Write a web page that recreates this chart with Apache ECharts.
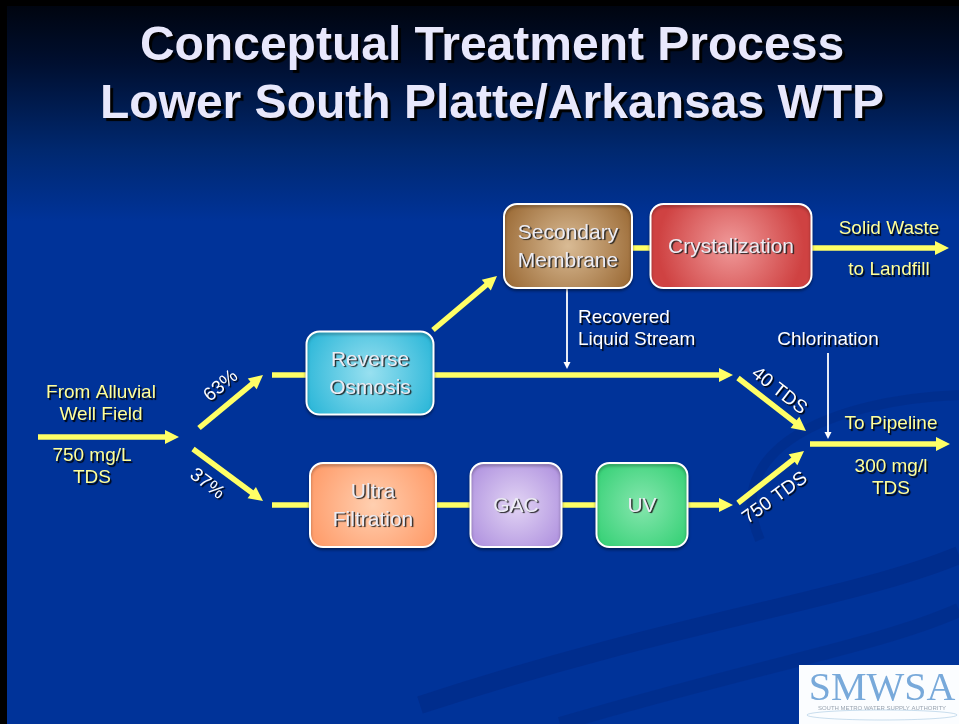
<!DOCTYPE html>
<html lang="en">
<head>
    <meta charset="UTF-8">
    <title>Conceptual Treatment Process</title>
    <script src="https://cdn.jsdelivr.net/npm/echarts@6/dist/echarts.min.js"></script>
    <style>
        html, body { margin: 0; padding: 0; background: #000; }
    </style>
</head>
<body>
    <div id="main" style="width: 959px;height:724px;"></div>
    <script type="text/javascript">
        // 处理单元：名称、中心点、宽高（图上坐标，单位约等于像素）
        var stepNames = ['Reverse\nOsmosis', 'Secondary\nMembrane', 'Crystalization', 'Ultra\nFiltration', 'GAC', 'UV'];
        var stepCenter = [[370, 373], [568, 246], [731, 246], [373, 505], [516, 505], [642, 505]];
        var stepSize = [[127, 83], [128, 84], [161, 84], [126, 84], [91, 84], [91, 84]];

        // 黄色流向箭头（起点 -> 箭头尖）
        var flowArrows = [
            [[38, 437], [179, 437]],
            [[199, 428], [263, 375]],
            [[193, 449], [263, 501]],
            [[433, 330], [497, 276]],
            [[433, 375], [733, 375]],
            [[812, 248], [949, 248]],
            [[688, 505], [733, 505]],
            [[738, 378], [806, 431]],
            [[738, 503], [804, 451]],
            [[810, 444], [950, 444]]
        ];
        // 单元之间的连接线（无箭头）
        var links = [
            [[272, 375], [307, 375]],
            [[632, 248], [651, 248]],
            [[272, 505], [310, 505]],
            [[436, 505], [471, 505]],
            [[562, 505], [597, 505]]
        ];
        // 白色细箭头：回收液、加氯
        var whiteArrows = [
            [[567, 288], [567, 369]],
            [[828, 353], [828, 439]]
        ];

        // 说明文字
        var noteText = ['From Alluvial\nWell Field', '750 mg/L\nTDS', '63%', '37%', 'Recovered\nLiquid Stream',
            'Chlorination', 'Solid Waste', 'to Landfill', '40 TDS', '750 TDS', 'To Pipeline', '300 mg/l\nTDS'];
        var notePos = [[101, 404], [92, 467], [221, 386], [207, 484], [578, 329],
            [828, 340], [889, 229], [889, 270], [779, 391], [775, 498], [891, 424], [891, 478]];
        var noteAngle = [0, 0, 40, -37, 0, 0, 0, 0, -38, 36, 0, 0];
        var noteKind = ['io', 'io', 'split', 'split', 'side', 'side', 'io', 'io', 'split', 'split', 'io', 'io'];

        var stepColors = [
            ['#98e0f0', '#29b6d8'],
            ['#d9bb95', '#9a6934'],
            ['#f09a9a', '#cf4242'],
            ['#ffcfb0', '#ff9966'],
            ['#e2d4f4', '#a17fd9'],
            ['#86e6ae', '#1fcb66']
        ];
        var yellow = '#ffff66';
        var font = '"Liberation Sans", Arial, sans-serif';

        var myChart = echarts.init(document.getElementById('main'));

        // 箭头线终点退回半个箭头长度，使三角形尖端落在给定点
        var headLen = 14;
        function toLine(seg, back) {
            var a = seg[0], b = seg[1];
            var dx = b[0] - a[0], dy = b[1] - a[1];
            var len = Math.sqrt(dx * dx + dy * dy);
            return {coords: [a, [b[0] - dx / len * back, b[1] - dy / len * back]]};
        }

        var option = {
            backgroundColor: '#000',
            animation: false,
            grid: {left: 0, right: 0, top: 0, bottom: 0},
            xAxis: {type: 'value', min: 0, max: 959, show: false},
            yAxis: {type: 'value', min: 0, max: 724, inverse: true, show: false},
            graphic: [
                {
                    type: 'rect', z: -10, silent: true,
                    shape: {x: 7, y: 6, width: 952, height: 718},
                    style: {
                        fill: new echarts.graphic.LinearGradient(0, 0, 0, 1, [
                            {offset: 0, color: '#000510'},
                            {offset: 0.08, color: '#000f30'},
                            {offset: 0.2, color: '#00286f'},
                            {offset: 0.3, color: '#003399'},
                            {offset: 1, color: '#003399'}
                        ])
                    }
                },
                // 背景的弧形暗纹
                {
                    type: 'bezierCurve', z: -9, silent: true,
                    shape: {x1: 420, y1: 705, x2: 959, y2: 555, cpx1: 680, cpy1: 620, cpx2: 850, cpy2: 600},
                    style: {stroke: 'rgba(0, 35, 120, 0.35)', lineWidth: 18, fill: null}
                },
                {
                    type: 'bezierCurve', z: -9, silent: true,
                    shape: {x1: 560, y1: 724, x2: 959, y2: 610, cpx1: 760, cpy1: 665, cpx2: 880, cpy2: 645},
                    style: {stroke: 'rgba(0, 35, 120, 0.3)', lineWidth: 14, fill: null}
                },
                {
                    type: 'bezierCurve', z: -9, silent: true,
                    shape: {x1: 959, y1: 395, x2: 760, y2: 540, cpx1: 830, cpy1: 400, cpx2: 720, cpy2: 450},
                    style: {stroke: 'rgba(0, 35, 120, 0.3)', lineWidth: 10, fill: null}
                },
                {
                    type: 'text', silent: true,
                    x: 492, y: 42,
                    style: {
                        text: 'Conceptual Treatment Process\nLower South Platte/Arkansas WTP',
                        font: 'bold 48px ' + font, fill: '#e8e8fc', align: 'center', verticalAlign: 'top',
                        lineHeight: 58, y: -24,
                        textShadowColor: '#000', textShadowBlur: 1, textShadowOffsetX: 3, textShadowOffsetY: 3
                    }
                },
                // SMWSA 标志
                {
                    type: 'rect', silent: true,
                    shape: {x: 799, y: 665, width: 160, height: 59},
                    style: {fill: '#fbfdff'}
                },
                {
                    type: 'text', silent: true, x: 882, y: 689,
                    style: {
                        text: 'SMWSA', font: '40px "Liberation Serif", "DejaVu Serif", serif', align: 'center', verticalAlign: 'middle',
                        fill: '#78a9da'
                    }
                },
                {
                    type: 'text', silent: true, x: 882, y: 708,
                    style: {text: 'SOUTH METRO WATER SUPPLY AUTHORITY', font: '6px ' + font, fill: '#9aa4b0', align: 'center', verticalAlign: 'middle'}
                },
                {
                    type: 'ellipse', silent: true,
                    shape: {cx: 882, cy: 715, rx: 75, ry: 5},
                    style: {fill: null, stroke: 'rgba(150, 190, 220, 0.5)', lineWidth: 1}
                }
            ],
            series: [
                {
                    // 连接线
                    type: 'lines', coordinateSystem: 'cartesian2d', z: 2,
                    symbol: 'none',
                    lineStyle: {color: yellow, width: 5.5, opacity: 1},
                    data: links.map(function (s) { return {coords: s}; })
                },
                {
                    // 黄色箭头
                    type: 'lines', coordinateSystem: 'cartesian2d', z: 3,
                    symbol: ['none', 'triangle'],
                    symbolSize: [23, headLen],
                    lineStyle: {color: yellow, width: 5.5, opacity: 1},
                    itemStyle: {color: yellow},
                    data: flowArrows.map(function (s) { return toLine(s, headLen / 2); })
                },
                {
                    // 白色细箭头
                    type: 'lines', coordinateSystem: 'cartesian2d', z: 3,
                    symbol: ['none', 'triangle'],
                    symbolSize: [10, 7],
                    lineStyle: {color: '#ffffff', width: 1.8, opacity: 1},
                    data: whiteArrows.map(function (s) { return toLine(s, 3.5); })
                },
                {
                    // 处理单元方框
                    type: 'custom', coordinateSystem: 'cartesian2d', z: 4,
                    data: stepCenter.map(function (c, i) { return [c[0], c[1], stepSize[i][0], stepSize[i][1]]; }),
                    renderItem: function (params, api) {
                        var i = params.dataIndex;
                        var c = api.coord([api.value(0), api.value(1)]);
                        var s = api.size([api.value(2), api.value(3)]);
                        var col = stepColors[i];
                        return {
                            type: 'group',
                            children: [{
                                type: 'rect',
                                shape: {x: c[0] - s[0] / 2, y: c[1] - s[1] / 2, width: s[0], height: s[1], r: 13},
                                style: {
                                    fill: {
                                        type: 'radial', x: 0.5, y: 0.5, r: 0.85,
                                        colorStops: [{offset: 0, color: col[0]}, {offset: 1, color: col[1]}]
                                    },
                                    stroke: '#ffffff', lineWidth: 2,
                                    shadowColor: 'rgba(0, 0, 0, 0.35)', shadowBlur: 3, shadowOffsetY: 2
                                }
                            }, {
                                type: 'text',
                                x: c[0], y: c[1] + 1,
                                style: {
                                    text: stepNames[i], font: '21px ' + font, fill: '#ececf4',
                                    align: 'center', verticalAlign: 'middle', lineHeight: 28,
                                    textShadowColor: 'rgba(30, 30, 30, 0.95)', textShadowBlur: 1,
                                    textShadowOffsetX: 1.5, textShadowOffsetY: 1.5
                                }
                            }]
                        };
                    }
                },
                {
                    // 说明文字
                    type: 'custom', coordinateSystem: 'cartesian2d', z: 5,
                    data: notePos.map(function (p) { return [p[0], p[1]]; }),
                    renderItem: function (params, api) {
                        var i = params.dataIndex;
                        var c = api.coord([api.value(0), api.value(1)]);
                        var kind = noteKind[i];
                        return {
                            type: 'text',
                            x: c[0], y: c[1],
                            rotation: noteAngle[i] * Math.PI / 180,
                            style: {
                                text: noteText[i],
                                font: '19px ' + font,
                                fill: kind === 'io' ? '#ffff99' : '#ffffff',
                                align: kind === 'side' && i === 4 ? 'left' : 'center',
                                verticalAlign: 'middle', lineHeight: 22,
                                textShadowColor: 'rgba(0, 0, 0, 0.9)', textShadowBlur: 1,
                                textShadowOffsetX: 1.5, textShadowOffsetY: 1.5
                            }
                        };
                    }
                }
            ]
        };

        myChart.setOption(option);
    </script>
</body>
</html>
